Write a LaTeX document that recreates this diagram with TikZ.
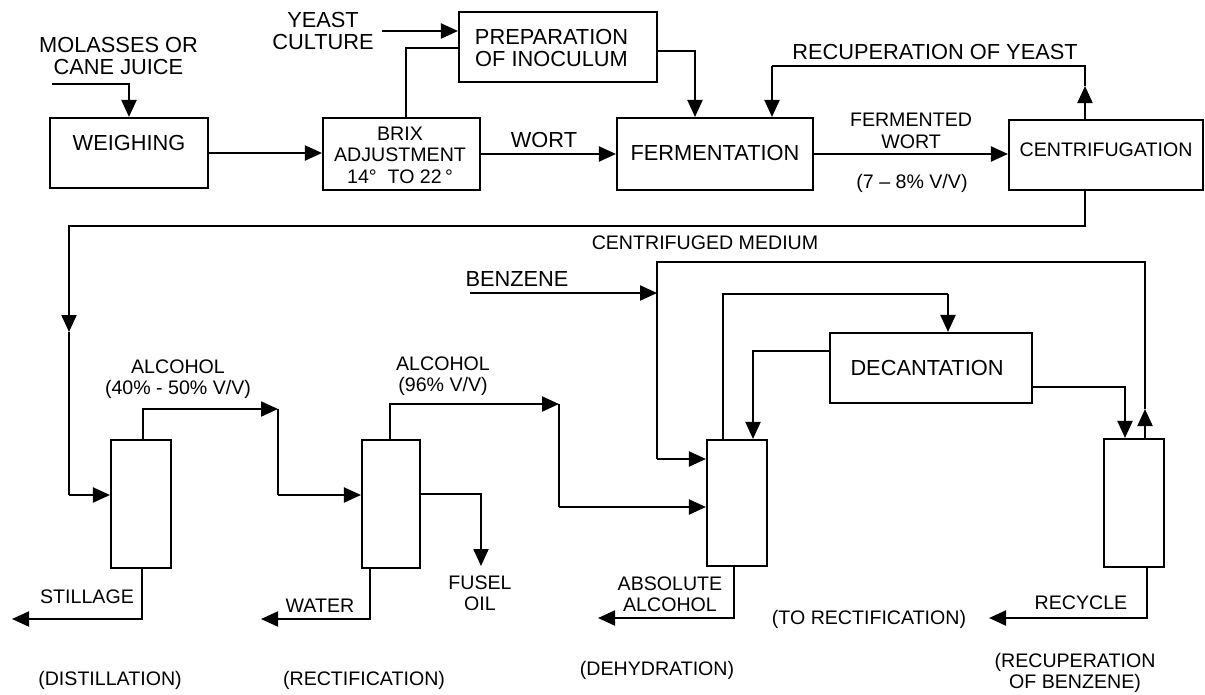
\documentclass[tikz,border=0pt]{standalone}
\usepackage{fontspec}
\setmainfont{Liberation Sans}
\usetikzlibrary{arrows.meta}
\begin{document}
\begin{tikzpicture}[x=1pt,y=-1pt,
  line width=2.1pt,
  boxnode/.style={draw, line width=2.1pt, inner sep=0pt, align=center},
  lbl/.style={font=\fontsize{19.6}{21.5}\selectfont, align=center, inner sep=0pt},
  lblbig/.style={font=\fontsize{21.8}{22.6}\selectfont, align=center, inner sep=0pt},
  arr/.style={-{Triangle[length=17pt,width=15pt]}}]
\useasboundingbox (0,0) rectangle (1205,694);

% boxes
\node[boxnode, minimum width=158pt, minimum height=70pt] (weigh) at (129,153) {};
\node[boxnode, minimum width=157pt, minimum height=72pt] (brix) at (401.5,154) {};
\node[boxnode, minimum width=198pt, minimum height=70pt] (prep) at (558,47) {};
\node[boxnode, minimum width=196pt, minimum height=72pt] (ferm) at (715,154) {};
\node[boxnode, minimum width=194pt, minimum height=70pt] (centr) at (1106,155) {};
\node[boxnode, minimum width=202pt, minimum height=70pt] (decant) at (931,368) {};
\node[boxnode, minimum width=60pt, minimum height=128pt] (col1) at (141,504) {};
\node[boxnode, minimum width=58pt, minimum height=128pt] (col2) at (391,504) {};
\node[boxnode, minimum width=60pt, minimum height=126pt] (col3) at (737,503) {};
\node[boxnode, minimum width=60pt, minimum height=128pt] (col4) at (1134,503) {};

% box texts
\node[lblbig] (tweigh) at (129,143) {WEIGHING};
\node[lbl] (tbrix) at (400,155) {BRIX\\ADJUSTMENT\\14°\ \ TO 22\,°};
\node[lblbig] (tprep) at (551.5,48) {PREPARATION\\OF INOCULUM};
\node[lblbig] (tferm) at (715,153) {FERMENTATION};
\node[lbl] (tcentr) at (1106,150) {CENTRIFUGATION};
\node[lblbig] (tdecant) at (927,368) {DECANTATION};

% labels
\node[lblbig] (tmol) at (118.5,56) {MOLASSES OR\\CANE JUICE};
\node[lblbig] (tyeast) at (323,31) {YEAST\\CULTURE};
\node[lblbig] (twort) at (544,140) {WORT};
\node[lbl] (tfw) at (911,131) {FERMENTED\\WORT};
\node[lbl] (tpct) at (912,183) {(7 -- 8\% V/V)};
\node[lblbig] (trecy) at (935,52) {RECUPERATION OF YEAST};
\node[lbl] (tmed) at (705,243) {CENTRIFUGED MEDIUM};
\node[lblbig] (tbenz) at (517,279) {BENZENE};
\node[lbl] (talc1) at (178,379) {ALCOHOL\\(40\% - 50\% V/V)};
\node[lbl] (talc2) at (443,376) {ALCOHOL\\(96\% V/V)};
\node[lbl] (tstill) at (87,597) {STILLAGE};
\node[lbl] (twater) at (320,606) {WATER};
\node[lbl] (tfusel) at (480,593) {FUSEL\\OIL};
\node[lbl] (tabs) at (670,594) {ABSOLUTE\\ALCOHOL};
\node[lbl] (trecycle) at (1081,603) {RECYCLE};
\node[lbl] (ttorect) at (869,619) {(TO RECTIFICATION)};
\node[lbl] (tdist) at (110,680) {(DISTILLATION)};
\node[lbl] (trect) at (364,680) {(RECTIFICATION)};
\node[lbl] (tdehy) at (657,670) {(DEHYDRATION)};
\node[lbl] (trecben) at (1075,673) {(RECUPERATION\\OF BENZENE)};

% coordinates
\coordinate (molin) at (52,84);
\coordinate (yeastin) at (382,31);
\coordinate (c1) at (406,48);
\coordinate (c2) at (695,51);
\coordinate (c3) at (1085,66);
\coordinate (c3tip) at (1085,86);
\coordinate (c4) at (772,66);
\coordinate (c5) at (1085,226);
\coordinate (c6) at (69,226);
\coordinate (c6tip) at (69,332);
\coordinate (c7) at (69,495);
\coordinate (d1) at (143,409);
\coordinate (d2) at (278,409);
\coordinate (d3) at (278,495);
\coordinate (d4) at (142,619);
\coordinate (d5) at (12,619);
\coordinate (r1) at (390,404);
\coordinate (r2) at (559,404);
\coordinate (r3) at (559,507);
\coordinate (r4) at (481,494);
\coordinate (r5) at (481,566);
\coordinate (r6) at (370,619);
\coordinate (r7) at (261,619);
\coordinate (b0) at (470,293);
\coordinate (b1) at (657,293);
\coordinate (b2) at (657,262);
\coordinate (b3) at (1145,262);
\coordinate (b4) at (1145,409);
\coordinate (b5) at (657,459);
\coordinate (e1) at (723,294);
\coordinate (e2) at (948,294);
\coordinate (e3) at (753,351);
\coordinate (e4) at (1125,387);
\coordinate (e5) at (734,618);
\coordinate (e6) at (598,618);
\coordinate (f1) at (1147,618);
\coordinate (f2) at (989,618);

% top row connectors
\draw[arr] (molin) -| (weigh.north);
\draw[arr] (weigh.east) -- (weigh.east -| brix.west);
\draw[arr] (yeastin) -- (yeastin -| prep.west);
\draw (brix.north -| c1) |- (prep.west |- c1);
\draw[arr] (prep.east |- c2) -| (ferm.north -| c2);
\draw[arr] (brix.east) -- (brix.east -| ferm.west);
\draw[arr] (ferm.east) -- (ferm.east -| centr.west);
\draw[arr] (centr.north -| c3) -- (c3tip);
\draw (c3tip) -- (c3) -- (c4);
\draw[arr] (c4) -- (c4 |- ferm.north);

% centrifuged medium
\draw[arr] (centr.south -| c5) |- (c6) -- (c6tip);
\draw (c6tip) -- (c7);
\draw[arr] (c7) -- (c7 -| col1.west);

% distillation
\draw[arr] (col1.north -| d1) |- (d2);
\draw (d2) -- (d3);
\draw[arr] (d3) -- (d3 -| col2.west);
\draw[arr] (col1.south -| d4) |- (d5);

% rectification
\draw[arr] (col2.north -| r1) |- (r2);
\draw (r2) -- (r3);
\draw[arr] (r3) -- (r3 -| col3.west);
\draw[arr] (col2.east |- r4) -| (r5);
\draw[arr] (col2.south -| r6) |- (r7);

% dehydration and benzene
\draw[arr] (b0) -- (b1);
\draw[arr] (col4.north -| b4) -- (b4);
\draw (b4) -- (b3) -- (b2) -- (b5);
\draw[arr] (b5) -- (b5 -| col3.west);
\draw (col3.north -| e1) |- (e2);
\draw[arr] (e2) -- (e2 |- decant.north);
\draw[arr] (decant.west |- e3) -| (col3.north -| e3);
\draw[arr] (decant.east |- e4) -| (col4.north -| e4);
\draw[arr] (col3.south -| e5) |- (e6);
\draw[arr] (col4.south -| f1) |- (f2);
\end{tikzpicture}
\end{document}
